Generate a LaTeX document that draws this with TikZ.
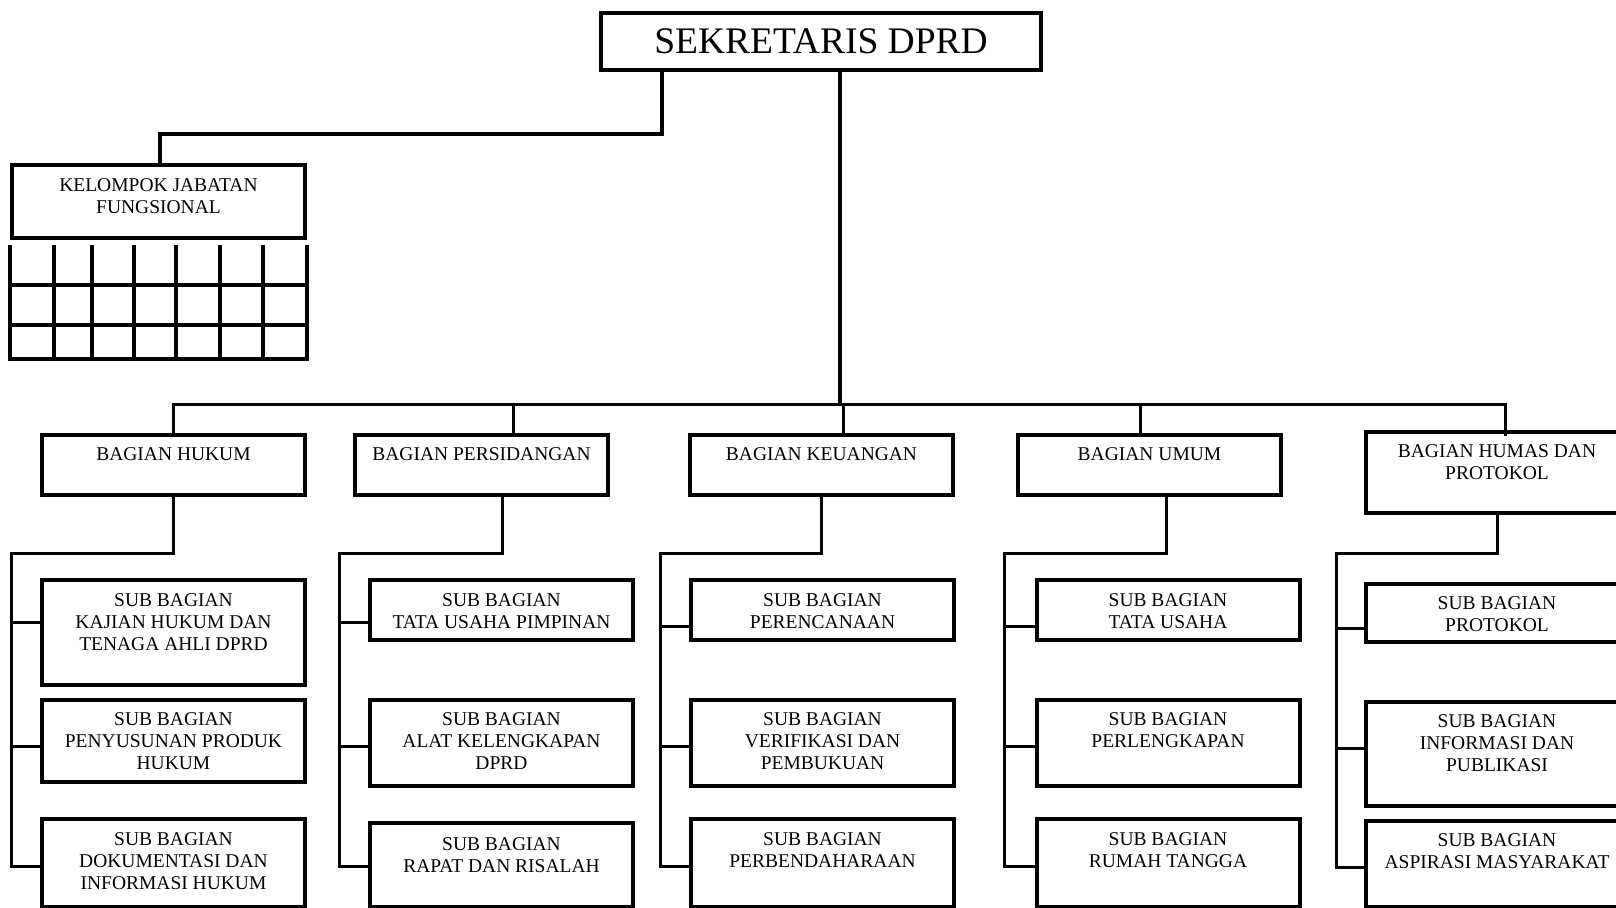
\documentclass[tikz,border=0pt]{standalone}
\usepackage{fontspec}
\setmainfont{Liberation Serif}
\usetikzlibrary{positioning}
\begin{document}
\begin{tikzpicture}[x=1pt,y=-1pt,
    box/.style={draw, line width=4pt, minimum width=263, inner sep=0pt},
    lbl/.style={font=\fontsize{19.5}{22}\selectfont, align=center, inner sep=0pt},
    conn/.style={line width=3pt}]

    \useasboundingbox (0,0) rectangle (1616,907);
    \clip (0,0) rectangle (1616,907);

    % pimpinan
    \node[box, minimum width=440, minimum height=57, font=\fontsize{37.5}{40}\selectfont] (sek) at (821,41.5) {SEKRETARIS DPRD};

    % kelompok jabatan fungsional
    \node[box, minimum width=293, minimum height=73] (kjf) at (158.5,201.5) {};
    \node[lbl, below=15pt of kjf.north] (kjft) {KELOMPOK JABATAN\\FUNGSIONAL};
    \foreach \x in {10,54,92,134,176,220,263,307}
        \draw[line width=3.5pt] (\x,245) -- (\x,361);
    \foreach \y in {285,325,359}
        \draw[line width=4pt] (8,\y) -- (309,\y);

    % bagian
    \node[box, minimum height=60] (hk) at (173.5,465) {};
    \node[box, minimum width=253, minimum height=60] (ps) at (481.5,465) {};
    \node[box, minimum height=60] (ku) at (821.5,465) {};
    \node[box, minimum height=60] (um) at (1149.5,465) {};
    \node[box, minimum height=81] (hm) at (1497,472.5) {};
    \node[lbl, below=14pt of hk.north] {BAGIAN HUKUM};
    \node[lbl, below=14pt of ps.north] {BAGIAN PERSIDANGAN};
    \node[lbl, below=14pt of ku.north] {BAGIAN KEUANGAN};
    \node[lbl, below=14pt of um.north] {BAGIAN UMUM};
    \node[lbl, below=14pt of hm.north] {BAGIAN HUMAS DAN\\PROTOKOL};

    % sub bagian hukum
    \node[box, minimum height=105] (hk1) at (173.5,632.5) {};
    \node[box, minimum height=82] (hk2) at (173.5,741) {};
    \node[box, minimum height=88] (hk3) at (173.5,863) {};
    \node[lbl, below=15pt of hk1.north] {SUB BAGIAN\\KAJIAN HUKUM DAN\\TENAGA AHLI DPRD};
    \node[lbl, below=14pt of hk2.north] {SUB BAGIAN\\PENYUSUNAN PRODUK\\HUKUM};
    \node[lbl, below=15pt of hk3.north] {SUB BAGIAN\\DOKUMENTASI DAN\\INFORMASI HUKUM};

    % sub bagian persidangan
    \node[box, minimum height=60] (ps1) at (501.5,610) {};
    \node[box, minimum height=86] (ps2) at (501.5,743) {};
    \node[box, minimum height=84] (ps3) at (501.5,865) {};
    \node[lbl, below=15pt of ps1.north] {SUB BAGIAN\\TATA USAHA PIMPINAN};
    \node[lbl, below=14pt of ps2.north] {SUB BAGIAN\\ALAT KELENGKAPAN\\DPRD};
    \node[lbl, below=16pt of ps3.north] {SUB BAGIAN\\RAPAT DAN RISALAH};

    % sub bagian keuangan
    \node[box, minimum height=60] (ku1) at (822.5,610) {};
    \node[box, minimum height=86] (ku2) at (822.5,743) {};
    \node[box, minimum height=88] (ku3) at (822.5,863) {};
    \node[lbl, below=15pt of ku1.north] {SUB BAGIAN\\PERENCANAAN};
    \node[lbl, below=14pt of ku2.north] {SUB BAGIAN\\VERIFIKASI DAN\\PEMBUKUAN};
    \node[lbl, below=15pt of ku3.north] {SUB BAGIAN\\PERBENDAHARAAN};

    % sub bagian umum
    \node[box, minimum height=60] (um1) at (1168,610) {};
    \node[box, minimum height=86] (um2) at (1168,743) {};
    \node[box, minimum height=88] (um3) at (1168,863) {};
    \node[lbl, below=15pt of um1.north] {SUB BAGIAN\\TATA USAHA};
    \node[lbl, below=14pt of um2.north] {SUB BAGIAN\\PERLENGKAPAN};
    \node[lbl, below=15pt of um3.north] {SUB BAGIAN\\RUMAH TANGGA};

    % sub bagian humas
    \node[box, minimum height=58] (hm1) at (1497,613) {};
    \node[box, minimum height=104] (hm2) at (1497,754) {};
    \node[box, minimum height=86] (hm3) at (1497,864) {};
    \node[lbl, below=14pt of hm1.north] {SUB BAGIAN\\PROTOKOL};
    \node[lbl, below=14pt of hm2.north] {SUB BAGIAN\\INFORMASI DAN\\PUBLIKASI};
    \node[lbl, below=14pt of hm3.north] {SUB BAGIAN\\ASPIRASI MASYARAKAT};

    % garis komando
    \draw[line width=3.5pt] (sek.south -| 662,0) |- (160,134) -- (kjf.north -| 160,0);
    \draw[line width=4pt] (sek.south -| 840,0) -- (840,404);
    \draw[conn] (hk.north) |- (1505,404) -- (1505,436);
    \draw[conn] (ps.north -| 513,0) -- (513,404);
    \draw[conn] (ku.north -| 843,0) -- (843,404);
    \draw[conn] (um.north -| 1140,0) -- (1140,404);

    \draw[conn] (hk.south) |- (11,553) |- (hk3.west |- 0,866);
    \draw[conn] (11,622) -- (hk1.west |- 0,622);
    \draw[conn] (11,746) -- (hk2.west |- 0,746);

    \draw[conn] (ps.south -| 502,0) |- (339,553) |- (ps3.west |- 0,866);
    \draw[conn] (339,622) -- (ps1.west |- 0,622);
    \draw[conn] (339,746) -- (ps2.west |- 0,746);

    \draw[conn] (ku.south) |- (660,553) |- (ku3.west |- 0,866);
    \draw[conn] (660,626) -- (ku1.west |- 0,626);
    \draw[conn] (660,746) -- (ku2.west |- 0,746);

    \draw[conn] (um.south -| 1166,0) |- (1004,553) |- (um3.west |- 0,866);
    \draw[conn] (1004,626) -- (um1.west |- 0,626);
    \draw[conn] (1004,746) -- (um2.west |- 0,746);

    \draw[conn] (hm.south) |- (1336,553) |- (hm3.west |- 0,867);
    \draw[conn] (1336,628) -- (hm1.west |- 0,628);
    \draw[conn] (1336,748) -- (hm2.west |- 0,748);

\end{tikzpicture}
\end{document}
